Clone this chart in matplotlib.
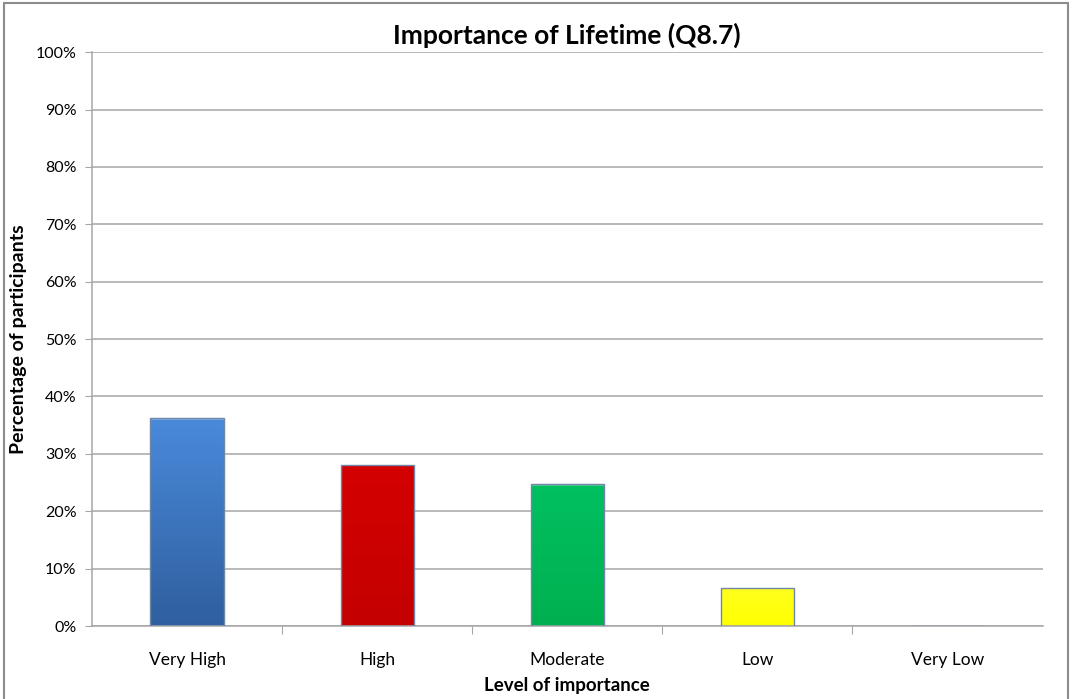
import numpy as np
import matplotlib.pyplot as plt
from matplotlib.colors import LinearSegmentedColormap
from matplotlib.patches import Rectangle

levels = ['Very High', 'High', 'Moderate', 'Low', 'Very Low']
percent = [36.2, 28.1, 24.7, 6.7, 0.0]
top_colors = ['#4A8ADB', '#D40000', '#00C060', '#FFFF20', '#FFFFFF']
bottom_colors = ['#2F5F9E', '#C40000', '#00B050', '#FFFF00', '#FFFFFF']

plt.rcParams['font.family'] = ['Lato', 'DejaVu Sans']

fig = plt.figure(figsize=(10.73, 6.99), dpi=100)
ax = fig.add_axes([0.0857, 0.1044, 0.886, 0.821])

x = np.arange(len(levels))
bars = ax.bar(x, percent, width=0.385, color='none', edgecolor='#6F86A6',
              linewidth=1.0, zorder=3)

# vertical gradient fill for each bar, clipped to the bar outline
for bar, c_top, c_bot in zip(bars, top_colors, bottom_colors):
    h = bar.get_height()
    if h <= 0:
        continue
    cmap = LinearSegmentedColormap.from_list('g', [c_bot, c_top])
    grad = np.linspace(0, 1, 256).reshape(-1, 1)
    x0 = bar.get_x()
    img = ax.imshow(grad, cmap=cmap, origin='lower', aspect='auto',
                    extent=(x0, x0 + bar.get_width(), 0, h), zorder=2)
    img.set_clip_path(bar)
    # thin lighter strip along the top edge
    ax.add_patch(Rectangle((x0, h - 0.3), bar.get_width(), 0.3,
                           color='white', alpha=0.3, lw=0, zorder=2.5))

ax.set_xlim(-0.5, len(levels) - 0.5)
ax.set_ylim(0, 100)
ax.set_yticks(np.arange(0, 101, 10))
ax.set_yticklabels([f'{v}%' for v in range(0, 101, 10)])
ax.yaxis.grid(True, color='#A6A6A6', linewidth=1.1)
ax.set_axisbelow(True)

# category boundaries get the tick marks, labels sit at the centers
ax.set_xticks(np.arange(0.5, len(levels) - 0.5, 1.0))
ax.set_xticklabels([])
ax.set_xticks(x, minor=True)
ax.set_xticklabels(levels, minor=True)
ax.tick_params(axis='x', which='minor', length=0, pad=19, labelsize=12.5)
ax.tick_params(axis='x', which='major', length=6, color='#A6A6A6', direction='out')
ax.tick_params(axis='y', length=5, color='#A6A6A6', labelsize=11.5, pad=6)

for side in ['top', 'right']:
    ax.spines[side].set_visible(False)
ax.spines['left'].set_color('#A6A6A6')
ax.spines['bottom'].set_color('#A6A6A6')
ax.spines['left'].set_linewidth(1.1)
ax.spines['bottom'].set_linewidth(1.1)

ax.set_title('Importance of Lifetime (Q8.7)', fontsize=19, fontweight='bold', pad=6)
ax.set_xlabel('Level of importance', fontsize=13.5, fontweight='bold', labelpad=6)
ax.set_ylabel('Percentage of participants', fontsize=14, fontweight='bold', labelpad=6)

# chart frame
fig.patches.append(Rectangle((0.004, -0.01), 0.991, 1.005, transform=fig.transFigure,
                             fill=False, edgecolor='#8C8C8C', linewidth=1.5))

fig.savefig('out.png', dpi=100)
